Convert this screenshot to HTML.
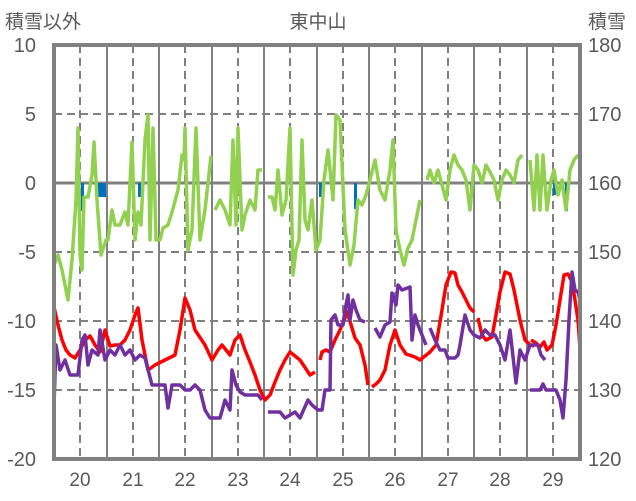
<!DOCTYPE html>
<html><head><meta charset="utf-8"><style>
html,body{margin:0;padding:0;background:#fff;}
svg{display:block;font-family:"Liberation Sans","Noto Sans CJK JP",sans-serif;}
</style></head><body>
<svg width="636" height="501" viewBox="0 0 636 501">
<rect width="636" height="501" fill="#fff"/>
<g fill="#595959" font-size="19">
<text x="5" y="28">積雪以外</text>
<text x="318" y="28" text-anchor="middle">東中山</text>
<text x="588" y="28">積雪</text>
</g>
<g fill="#595959" font-size="20" text-anchor="end">
<text x="36" y="52">10</text><text x="36" y="121">5</text><text x="36" y="190">0</text>
<text x="36" y="259">-5</text><text x="36" y="328">-10</text><text x="36" y="397">-15</text><text x="36" y="466">-20</text>
</g>
<g fill="#595959" font-size="20">
<text x="588" y="52">180</text><text x="588" y="121">170</text><text x="588" y="190">160</text>
<text x="588" y="259">150</text><text x="588" y="328">140</text><text x="588" y="397">130</text><text x="588" y="466">120</text>
</g>
<g fill="#595959" font-size="19" text-anchor="middle">
<text x="80" y="486">20</text><text x="133" y="486">21</text><text x="185" y="486">22</text><text x="238" y="486">23</text><text x="290" y="486">24</text>
<text x="343" y="486">25</text><text x="395" y="486">26</text><text x="448" y="486">27</text><text x="500" y="486">28</text><text x="553" y="486">29</text>
</g>
<g stroke="#808080" stroke-width="2" stroke-dasharray="8,5">
<line x1="54" y1="114" x2="580" y2="114"/><line x1="54" y1="252" x2="580" y2="252"/>
<line x1="54" y1="321" x2="580" y2="321"/><line x1="54" y1="390" x2="580" y2="390"/>
<line x1="80" y1="45" x2="80" y2="459"/><line x1="133" y1="45" x2="133" y2="459"/><line x1="185" y1="45" x2="185" y2="459"/>
<line x1="238" y1="45" x2="238" y2="459"/><line x1="290" y1="45" x2="290" y2="459"/><line x1="343" y1="45" x2="343" y2="459"/>
<line x1="395" y1="45" x2="395" y2="459"/><line x1="448" y1="45" x2="448" y2="459"/><line x1="500" y1="45" x2="500" y2="459"/>
<line x1="553" y1="45" x2="553" y2="459"/>
</g>
<g stroke="#808080" stroke-width="2">
<line x1="107" y1="45" x2="107" y2="459"/><line x1="159" y1="45" x2="159" y2="459"/><line x1="212" y1="45" x2="212" y2="459"/>
<line x1="264" y1="45" x2="264" y2="459"/><line x1="317" y1="45" x2="317" y2="459"/><line x1="369" y1="45" x2="369" y2="459"/>
<line x1="422" y1="45" x2="422" y2="459"/><line x1="474" y1="45" x2="474" y2="459"/><line x1="527" y1="45" x2="527" y2="459"/>
<line x1="54" y1="183" x2="580" y2="183" stroke-width="3"/>
</g>
<g fill="#0070c0">
<rect x="81" y="183" width="3" height="28"/><rect x="98" y="183" width="8" height="14"/><rect x="138" y="183" width="3" height="14"/>
<rect x="230" y="183" width="2" height="10"/><rect x="319" y="183" width="3" height="14"/><rect x="354" y="183" width="3" height="26"/>
<rect x="470" y="183" width="2" height="10"/><rect x="553" y="183" width="3" height="12"/><rect x="565" y="183" width="3" height="28"/>
</g>
<g fill="none" stroke-width="3.5" stroke-linejoin="round">
<polyline stroke="#92d050" points="54,265 58,255 62,270 68,300 72,260 76,200 78,128 80,255 82,270 84,197 88,197 92,175 94,142 97,200 101,255 106,240 108,240 112,210 115,225 120,225 125,212 128,225 132,142 135,240 138,212 141,225 145,140 148,115 150,240 153,128 156,240 160,240 163,228 168,225 172,212 178,190 182,155 184,160 185,128 188,250 192,230 196,128 200,240 205,210 211,156"/>
<polyline stroke="#92d050" points="215,210 220,200 225,210 230,225 233,140 236,225 238,128 242,230 245,215 250,200 255,210 258,170 262,170"/>
<polyline stroke="#92d050" points="268,197 272,197 275,210 278,170 282,215 286,200 290,128 293,275 296,250 299,240 302,140 305,220 308,230 312,200 316,250 320,240 324,180 328,150 333,200 336,115 340,120 345,230 350,265 354,245 358,200 362,205 366,195 370,180 375,160 380,190 385,200 390,170 393,140 396,230 400,250 404,265 408,248 412,240 416,220 420,200"/>
<polyline stroke="#92d050" points="427,180 430,170 434,183 438,170 442,185 446,200 450,170 454,155 458,165 462,170 466,180 470,210 474,165 478,170 482,183 486,165 490,172 494,180 498,200 502,180 506,170 510,175 514,183 518,160 522,155"/>
<polyline stroke="#92d050" points="530,160 534,210 537,155 540,210 543,155 547,210 551,180 554,170 558,195 562,180 566,210 570,170 574,160 578,155"/>
<polyline stroke="#ff0000" points="54,307 58,325 62,340 66,350 70,355 75,358 80,350 85,340 90,336 95,345 100,352 105,330 110,346 115,345 120,345 125,340 130,330 135,315 138,308 142,340 148,370 155,365 165,360 175,355 180,330 185,298 190,310 195,330 205,345 212,360 218,350 222,345 230,355 235,340 240,335 245,350 250,362 255,375 260,390 265,400 270,395 275,382 280,370 285,360 290,352 300,360 310,375 315,372"/>
<polyline stroke="#ff0000" points="320,360 322,352 326,350 330,352 335,340 340,330 345,318 346,311 349,318 355,338 360,345 365,365 368,385"/>
<polyline stroke="#ff0000" points="372,387 376,384 380,380 385,370 390,345 395,330 400,345 406,354 415,357 420,360 425,356 430,352 436,345 441,316 446,285 451,272 455,273 458,285 462,292 466,300 470,308 474,312"/>
<polyline stroke="#ff0000" points="478,318 482,335 486,340 492,337 496,315 500,292 505,272 510,274 514,290 520,320 525,340 530,345 534,346"/>
<polyline stroke="#ff0000" points="531,340 536,343 540,347 544,342 547,350 552,345 556,325 560,300 564,275 568,274 572,282 575,300 578,320 580,348"/>
<polyline stroke="#7030a0" points="54,405 56,345 60,370 65,360 70,375 78,375 82,340 85,335 88,365 92,350 98,355 100,330 105,360 110,350 115,355 120,345 125,355 130,350 135,360 140,355 145,358 152,385 160,385 165,385 168,408 172,385 180,385 185,390 190,390 195,385 200,390 205,410 210,418 215,418 220,418 225,400 230,410 232,370 236,385 240,392 245,395 252,395 258,395 262,400"/>
<polyline stroke="#7030a0" points="268,412 280,412 285,418 295,412 300,418 308,400 312,405 318,410 322,410 325,390 330,390 331,320 335,315 338,325 343,325 345,310 348,295 350,320 353,300 356,310 360,320 365,322"/>
<polyline stroke="#7030a0" points="375,328 380,337 385,325 390,322 392,293 396,305 398,285 402,290 410,287 412,340 415,315 418,325 422,335 426,345"/>
<polyline stroke="#7030a0" points="430,328 435,340 440,350 445,350 448,358 455,358 458,355 460,345 465,315 470,330 474,335 480,338 485,330 490,335 495,335 500,345 505,360 510,330 516,383 520,350 525,360 530,345 538,345 541,355 545,360"/>
<polyline stroke="#7030a0" points="530,390 540,390 543,384 546,390 556,390 560,400 563,418 566,380 569,320 572,272 575,290 578,292 580,300"/>
</g>
<rect x="54" y="45" width="526" height="414" fill="none" stroke="#808080" stroke-width="4"/>
</svg>
</body></html>
